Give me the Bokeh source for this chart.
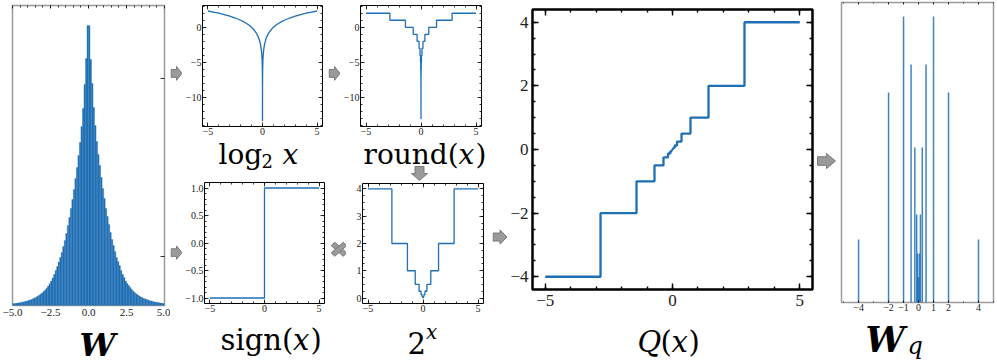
import numpy as np
from bokeh.plotting import figure
from bokeh.models import LinearAxis, FixedTicker, Range1d, Label, CustomLabelingPolicy
from bokeh.layouts import row, column
from bokeh.embed import file_html
from bokeh.resources import INLINE

# ---------------- data ----------------
# histogram of W: 100 bins of width 0.1 between -5 and 5
w_hist_neg = [1.9, 2.0, 2.2, 2.4, 2.7, 3.0, 3.3, 3.7, 4.1, 4.5,
              5.0, 5.5, 6.1, 6.8, 7.5, 8.3, 9.2, 10.2, 11.3, 12.5,
              13.9, 15.5, 17.3, 19.4, 21.8, 24.5, 27.5, 31, 35, 39,
              43.5, 48, 53, 59, 65, 72, 80, 88, 97, 106,
              116, 127, 138, 150, 163, 179, 197, 221, 247, 280]
w_hist_pos = [280, 246, 222, 198, 180, 164, 151, 140, 128, 117,
              107, 97, 89, 81, 73, 66, 60, 54, 48, 44,
              40, 35, 31, 28, 24.5, 22, 20, 18, 16, 14.2,
              12.8, 11.6, 10.5, 9.5, 8.6, 7.8, 7.1, 6.5, 5.9, 5.3,
              4.8, 4.4, 4.0, 3.6, 3.3, 3.0, 2.7, 2.5, 2.3, 2.1]

# log2 curve (positive half, mirrored for |x|)
log2_x = [0.0001, 0.0003, 0.001, 0.003, 0.01, 0.02, 0.04, 0.07, 0.1, 0.15,
          0.2, 0.3, 0.4, 0.5, 0.6, 0.75, 0.9, 1.0, 1.25, 1.5,
          1.75, 2.0, 2.5, 3.0, 3.5, 4.0, 4.5, 5.0]
log2_y = [-13.29, -11.70, -9.97, -8.38, -6.64, -5.64, -4.64, -3.84, -3.32, -2.74,
          -2.32, -1.74, -1.32, -1.0, -0.74, -0.42, -0.15, 0.0, 0.32, 0.58,
          0.81, 1.0, 1.32, 1.58, 1.81, 2.0, 2.17, 2.32]

# step edges (|x|) and the levels between them
step_edges = [0.0001, 0.00017, 0.00035, 0.0007, 0.0014, 0.0028, 0.0055, 0.011, 0.022,
              0.044, 0.088, 0.177, 0.354, 0.707, 1.414, 2.828, 5.0]
round_levels = [-13, -12, -11, -10, -9, -8, -7, -6, -5, -4, -3, -2, -1, 0, 1, 2]
pow2_levels = [0.00012, 0.00024, 0.00049, 0.00098, 0.002, 0.0039, 0.0078, 0.0156,
               0.031, 0.0625, 0.125, 0.25, 0.5, 1, 2, 4]

sign_x = [-5, 0, 0, 5]
sign_y = [-1, -1, 1, 1]

wq_levels = [-4, -2, -1, -0.5, -0.25, -0.125, -0.0625, -0.03125,
             0.03125, 0.0625, 0.125, 0.25, 0.5, 1, 2, 4]
wq_counts = [63, 210, 286, 238, 155, 88, 49, 25, 25, 49, 88, 155, 238, 286, 210, 63]

# tick labels
w_ticks = [-5, -2.5, 0, 2.5, 5]
w_tick_labels = ["−5.0", "−2.5", "0.0", "2.5", "5.0"]
x5_ticks = [-5, 0, 5]
x5_labels = ["−5", "0", "5"]
log_ticks = [-10, -5, 0]
log_labels = ["−10", "−5", "0"]
sign_ticks = [-1, -0.5, 0, 0.5, 1]
sign_labels = ["−1.0", "−0.5", "0.0", "0.5", "1.0"]
pow_ticks = [0, 1, 2, 3, 4]
pow_labels = ["0", "1", "2", "3", "4"]
q_ticks = [-4, -2, 0, 2, 4]
q_labels = ["−4", "−2", "0", "2", "4"]
wq_ticks = [-4, -2, -1, 0, 1, 2, 4]
wq_labels = ["−4", "−2", "−1", "0", "1", "2", "4"]

# ---------------- styling ----------------
BLUE = "#1f6fb4"
ARROW_FILL = "#9a9a9a"
ARROW_LINE = "#7a7a7a"
TICK_FONT = "Liberation Serif"
LBL_FONT = "DejaVu Serif"


def panel(W, H, L, R, T, B, xr, yr, outline="black", ow=1.0):
    p = figure(width=W, height=H, x_range=Range1d(*xr), y_range=Range1d(*yr),
               x_axis_location=None, y_axis_location=None,
               output_backend="svg", toolbar_location=None,
               min_border_left=L, min_border_right=R,
               min_border_top=T, min_border_bottom=B)
    p.xgrid.visible = False
    p.ygrid.visible = False
    p.outline_line_color = outline
    p.outline_line_width = ow
    p.background_fill_color = "white"
    p.border_fill_color = "white"
    return p


def canvas(W, H):
    """A plain drawing area in pixel units (y downwards) for labels and arrows."""
    p = figure(width=W, height=H, x_range=Range1d(0, W), y_range=Range1d(H, 0),
               x_axis_location=None, y_axis_location=None,
               output_backend="svg", toolbar_location=None, min_border=0)
    p.xgrid.visible = False
    p.ygrid.visible = False
    p.outline_line_color = None
    p.background_fill_color = "white"
    p.border_fill_color = "white"
    return p


def axis(p, side, ticks, minor, labels=None, size="10px", tin=4, mtin=2, lw=0.8,
         color="black", standoff=1):
    ax = LinearAxis(ticker=FixedTicker(ticks=ticks, minor_ticks=minor))
    ax.axis_line_color = None
    ax.major_tick_in = tin
    ax.major_tick_out = 0
    ax.minor_tick_in = mtin
    ax.minor_tick_out = 0
    ax.major_tick_line_width = lw
    ax.minor_tick_line_width = lw
    ax.major_tick_line_color = color
    ax.minor_tick_line_color = color
    if labels:
        ax.major_label_overrides = {t: l for t, l in zip(ticks, labels)}
        ax.major_label_text_font = TICK_FONT
        ax.major_label_text_font_size = size
        ax.major_label_text_color = "#222222"
        ax.major_label_standoff = standoff
    else:
        ax.major_label_policy = CustomLabelingPolicy(
            code="for (const i of indices) { indices.unset(i) }\nreturn indices")
        ax.major_label_text_font_size = "0px"
        ax.major_label_standoff = 0
    p.add_layout(ax, side)


def text(p, x, baseline, s, size, style="normal", align="left"):
    # Bokeh places the alphabetic baseline one descent lower than y: compensate
    y = baseline - 0.236 * size
    p.add_layout(Label(x=x, y=y, text=s, text_font=LBL_FONT, text_font_size=f"{size}px",
                       text_font_style=style, text_align=align,
                       text_baseline="alphabetic", text_color="black"))


def shape(p, pts):
    p.patch([a for a, _ in pts], [b for _, b in pts], fill_color=ARROW_FILL,
            line_color=ARROW_LINE, line_width=1)


def arrow_right(p, x0, x1, yc, body=4.5, head=8):
    xm = x0 + (x1 - x0) * 0.5
    shape(p, [(x0, yc - body), (xm, yc - body), (xm, yc - head), (x1, yc),
              (xm, yc + head), (xm, yc + body), (x0, yc + body)])


def arrow_down(p, xc, y0, y1, body=4.5, head=8):
    ym = y0 + (y1 - y0) * 0.5
    shape(p, [(xc - body, y0), (xc - body, ym), (xc - head, ym), (xc, y1),
              (xc + head, ym), (xc + body, ym), (xc + body, y0)])


def cross(p, xc, yc, s=6, t=2.6):
    a = t / np.sqrt(2)
    shape(p, [(xc + s + a, yc + s - a), (xc + s - a, yc + s + a),
              (xc - s - a, yc - s + a), (xc - s + a, yc - s - a)])
    shape(p, [(xc - s - a, yc + s - a), (xc - s + a, yc + s + a),
              (xc + s + a, yc - s + a), (xc + s - a, yc - s - a)])


def step_line(levels, signed):
    xs, ys = [], []
    n = len(levels)
    for i in reversed(range(n)):
        lv = -levels[i] if signed else levels[i]
        xs += [-step_edges[i + 1], -step_edges[i]]
        ys += [lv, lv]
    for i in range(n):
        xs += [step_edges[i], step_edges[i + 1]]
        ys += [levels[i], levels[i]]
    return xs, ys


ints = list(range(-5, 6))

# ---------------- panel 1: histogram of W ----------------
p1 = panel(170, 322, 12, 6, 5, 17, (-5, 5), (0, 300), outline="#9a9a9a", ow=1.5)
edges = np.linspace(-5, 5, 101)
p1.quad(left=edges[:-1], right=edges[1:], bottom=0, top=w_hist_neg + w_hist_pos,
        fill_color=BLUE, line_color="#2a74b6", line_width=0.3)
axis(p1, "below", w_ticks, [], w_tick_labels, size="11px", tin=0, mtin=0, standoff=3)
axis(p1, "above", w_ticks, list(np.arange(-4.5, 5, 0.5)), tin=3, mtin=2)
axis(p1, "right", [49, 227], [], tin=4, mtin=0)
la = canvas(170, 41)
text(la, 95, 30, "W", 32, style="bold italic", align="center")

# ---------------- panel 2: log2 x ----------------
p2 = panel(146, 139, 17, 6, 5, 13, (-5.5, 5.5), (-14.1, 3.1))
lx = [-v for v in reversed(log2_x)] + log2_x
ly = list(reversed(log2_y)) + log2_y
p2.line(lx, ly, line_color=BLUE, line_width=1.3)
axis(p2, "below", x5_ticks, ints, x5_labels)
axis(p2, "above", x5_ticks, ints)
axis(p2, "left", log_ticks, list(range(-14, 4)), log_labels)
axis(p2, "right", log_ticks, list(range(-14, 4)))
a1 = canvas(12, 139)
arrow_right(a1, 0.5, 11.5, 78)
l2 = canvas(158, 33)
text(l2, 48, 22, "log", 28)
text(l2, 91, 26, "2", 18)
text(l2, 112, 22, "x", 28, style="italic")

# ---------------- panel 4: sign(x) ----------------
p4 = panel(146, 145, 21, 4, 10, 14, (-5.5, 5.5), (-1.1, 1.1))
p4.line(sign_x, sign_y, line_color=BLUE, line_width=1.3)
minor_sign = [round(v, 2) for v in np.arange(-1.0, 1.05, 0.1)]
axis(p4, "below", x5_ticks, ints, x5_labels)
axis(p4, "above", x5_ticks, ints)
axis(p4, "left", sign_ticks, minor_sign, sign_labels)
axis(p4, "right", sign_ticks, minor_sign)
a2 = canvas(12, 145)
arrow_right(a2, 0.5, 11.5, 84)
l4 = canvas(158, 46)
text(l4, 50, 29, "sign(", 29)
text(l4, 122.5, 29, "x", 29, style="italic")
text(l4, 140, 29, ")", 29)

# ---------------- panel 3: round(log2 x) ----------------
p3 = panel(152, 139, 18, 11, 5, 13, (-5.5, 5.5), (-14.1, 3.1))
rx, ry = step_line(round_levels, signed=False)
p3.line(rx, ry, line_color=BLUE, line_width=1.3)
axis(p3, "below", x5_ticks, ints, x5_labels)
axis(p3, "above", x5_ticks, ints)
axis(p3, "left", log_ticks, list(range(-14, 4)), log_labels)
axis(p3, "right", log_ticks, list(range(-14, 4)))
a3 = canvas(12, 139)
arrow_right(a3, 0.5, 11.5, 78)
l3 = canvas(164, 43)
text(l3, 35, 22, "round(", 28)
text(l3, 130, 22, "x", 28, style="italic")
text(l3, 147, 22, ")", 28)
arrow_down(l3, 91, 27, 41)

# ---------------- panel 5: 2^x ----------------
p5 = panel(146, 135, 16, 9, 1, 14, (-5.5, 5.5), (-0.2, 4.2))
px_, py_ = step_line(pow2_levels, signed=False)
p5.line(px_, py_, line_color=BLUE, line_width=1.3)
minor_pow = [round(v, 2) for v in np.arange(0, 4.01, 0.25)]
axis(p5, "below", x5_ticks, ints, x5_labels)
axis(p5, "above", x5_ticks, ints)
axis(p5, "left", pow_ticks, minor_pow, pow_labels)
axis(p5, "right", pow_ticks, minor_pow)
a4 = canvas(18, 135)
cross(a4, 10.5, 74)
l5 = canvas(164, 46)
text(l5, 79, 32, "2", 29)
text(l5, 97.5, 19, "x", 20, style="italic")

# ---------------- panel 6: Q(x) ----------------
p6 = panel(308, 315, 23, 3, 9, 26, (-5.5, 5.5), (-4.4, 4.4), ow=2.5)
qx, qy = step_line(pow2_levels, signed=True)
p6.line(qx, qy, line_color=BLUE, line_width=2.3)
minor_q = [round(v, 2) for v in np.arange(-4, 4.01, 0.5)]
axis(p6, "below", x5_ticks, ints, x5_labels, size="17px", tin=6, mtin=3, lw=1.4, standoff=5)
axis(p6, "above", x5_ticks, ints, tin=6, mtin=3, lw=1.4)
axis(p6, "left", q_ticks, minor_q, q_labels, size="17px", tin=6, mtin=3, lw=1.4, standoff=4)
axis(p6, "right", q_ticks, minor_q, tin=6, mtin=3, lw=1.4)
a5 = canvas(15, 315)
arrow_right(a5, 0.5, 14.5, 256)
l6 = canvas(323, 48)
text(l6, 145, 33, "Q", 29, style="italic")
text(l6, 168, 33, "(", 29)
text(l6, 179, 33, "x", 29, style="italic")
text(l6, 196, 33, ")", 29)

# ---------------- panel 7: histogram of W_q ----------------
p7 = panel(157, 316, 2, 3, 2, 14, (-5.14, 5.0), (0, 300), outline="#9a9a9a", ow=1.5)
p7.vbar(x=wq_levels, width=0.1, top=wq_counts, bottom=0,
        fill_color=BLUE, fill_alpha=0.85, line_color=None)
axis(p7, "below", wq_ticks, ints, wq_labels, size="10px", tin=2, mtin=1)
axis(p7, "above", wq_ticks, ints, tin=2, mtin=1)
a6 = canvas(24, 316)
arrow_right(a6, 2, 20, 167)
l7 = canvas(181, 47)
text(l7, 50, 31, "W", 35, style="bold italic")
text(l7, 92, 35, "q", 24, style="italic")

layout = row(
    column(p1, la),
    column(row(a1, p2), l2, row(a2, p4), l4),
    column(row(a3, p3), l3, row(a4, p5), l5),
    column(row(a5, p6), l6),
    column(row(a6, p7), l7),
)

open("out.html", "w").write(file_html(layout, INLINE))
